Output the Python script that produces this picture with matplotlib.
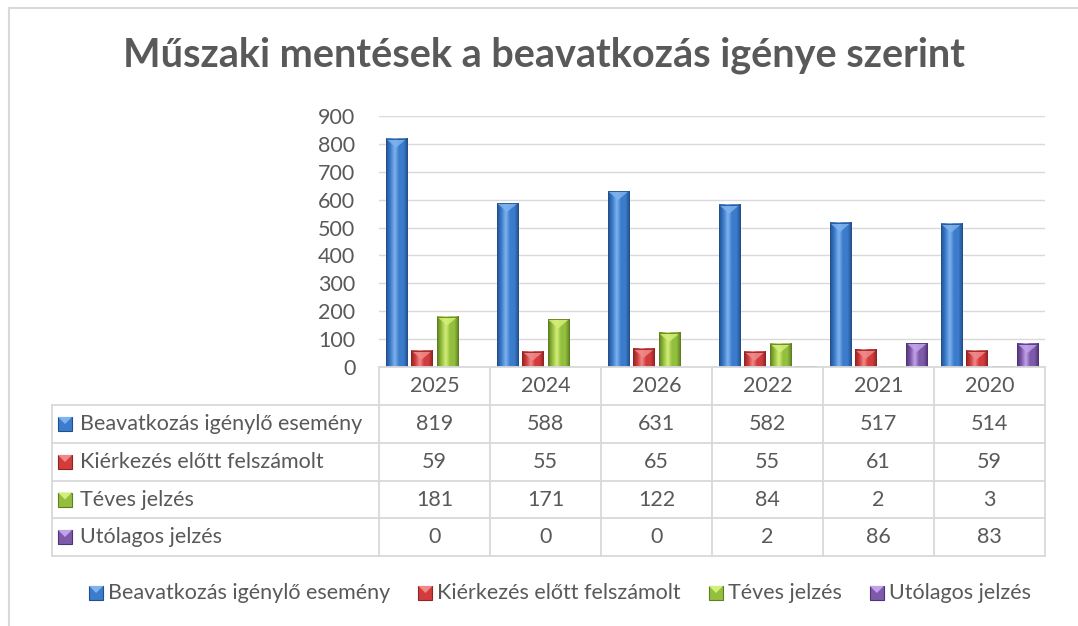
import matplotlib
matplotlib.use("Agg")
import matplotlib.pyplot as plt
import numpy as np
from matplotlib.colors import LinearSegmentedColormap
from matplotlib.patches import Rectangle, Polygon
from matplotlib.lines import Line2D

# adatok
years = ["2025", "2024", "2026", "2022", "2021", "2020"]
series_names = ["Beavatkozás igénylő esemény", "Kiérkezés előtt felszámolt",
                "Téves jelzés", "Utólagos jelzés"]
beavatkozas = [819, 588, 631, 582, 517, 514]
kierkezes = [59, 55, 65, 55, 61, 59]
teves = [181, 171, 122, 84, 2, 3]
utolagos = [0, 0, 0, 2, 86, 83]
yticks = list(range(0, 1000, 100))

series = [beavatkozas, kierkezes, teves, utolagos]
# (sötét, alap, világos)
colors = [("#23508c", "#3b7ccc", "#7fb2ee"),
          ("#8e2424", "#d23c3c", "#f08a8a"),
          ("#5f7e22", "#93bf3e", "#d4ee7a"),
          ("#4e3474", "#7e5aaa", "#c2a2ea")]

plt.rcParams['font.family'] = ['Lato', 'DejaVu Sans']
grey = "#595959"
line_c = "#d9d9d9"
fs = 15.5

W, H = 1078, 626
fig = plt.figure(figsize=(W / 100, H / 100), dpi=100)

def fx(x):
    return x / W

def fy(y):
    return 1 - y / H

# keret
fig.add_artist(Line2D([fx(9), fx(9)], [fy(8), fy(626)], color=line_c, lw=1.5, transform=fig.transFigure))
fig.add_artist(Line2D([fx(9), fx(1078)], [fy(8), fy(8)], color=line_c, lw=1.5, transform=fig.transFigure))

fig.text(fx(544), fy(55), "Műszaki mentések a beavatkozás igénye szerint",
         ha="center", va="center", fontsize=28.5, fontweight="bold", color=grey)

ax = fig.add_axes([fx(379), fy(367), fx(1045) - fx(379), fy(116) - fy(367)])
ax.set_xlim(0, len(years))
ax.set_ylim(0, 900)
ax.set_yticks(yticks)
ax.set_xticks([])
ax.tick_params(axis="y", length=0, pad=17, labelsize=fs, labelcolor=grey)
for s in ax.spines.values():
    s.set_visible(False)
ax.grid(axis="y", color=line_c, lw=1.0)
ax.set_axisbelow(True)

bw = 0.19
pitch = 0.23
px_per_unit = (367 - 116) / 900.0
tri_depth = 9 / px_per_unit
for k, vals in enumerate(series):
    dark, base, light = colors[k]
    cmap = LinearSegmentedColormap.from_list("g%d" % k, [dark, base, light, base, base, dark])
    grad = np.linspace(0, 1, 64).reshape(1, -1)
    for i, v in enumerate(vals):
        if v <= 0:
            continue
        x0 = i + 0.5 + (k - 1.5) * pitch - bw / 2
        x1 = x0 + bw
        ax.imshow(grad, cmap=cmap, extent=[x0, x1, 0, v], aspect="auto", zorder=3)
        d = min(tri_depth, v)
        ax.add_patch(Polygon([[x0, v], [x1, v], [(x0 + x1) / 2, v - d]],
                             closed=True, facecolor=light, edgecolor="none", alpha=0.85, zorder=4))
        ax.add_patch(Rectangle((x0, 0), bw, v, facecolor="none", edgecolor=dark, lw=0.6, zorder=5))
ax.set_xlim(0, len(years))
ax.set_ylim(0, 900)

def marker(x, yc, k, size=14):
    dark, base, light = colors[k]
    s_w = size / W
    s_h = size / H
    fig.add_artist(Rectangle((fx(x), fy(yc) - s_h / 2), s_w, s_h, facecolor=base,
                             edgecolor=dark, lw=0.8, transform=fig.transFigure))
    fig.add_artist(Polygon([[fx(x), fy(yc) + s_h / 2], [fx(x) + s_w, fy(yc) + s_h / 2],
                            [fx(x) + s_w / 2, fy(yc)]], closed=True, facecolor=light,
                           edgecolor="none", transform=fig.transFigure))

# táblázat
col_x = [379 + i * 111 for i in range(len(years) + 1)]
row_y = [367, 405, 443, 481, 518, 556]
lkw = dict(color=line_c, lw=1.3, transform=fig.transFigure)
for y in row_y[1:]:
    fig.add_artist(Line2D([fx(52), fx(1045)], [fy(y), fy(y)], **lkw))
fig.add_artist(Line2D([fx(379), fx(1045)], [fy(367), fy(367)], **lkw))
for x in col_x:
    fig.add_artist(Line2D([fx(x), fx(x)], [fy(367), fy(556)], **lkw))
fig.add_artist(Line2D([fx(52), fx(52)], [fy(405), fy(556)], **lkw))

for i, yr in enumerate(years):
    fig.text(fx(col_x[i] + 55.5), fy(386), yr, ha="center", va="center", fontsize=fs, color=grey)
for k, vals in enumerate(series):
    yc = (row_y[k + 1] + row_y[k + 2]) / 2
    marker(58, yc, k)
    fig.text(fx(80), fy(yc), series_names[k], ha="left", va="center", fontsize=fs, color=grey)
    for i, v in enumerate(vals):
        fig.text(fx(col_x[i] + 55.5), fy(yc), str(v), ha="center", va="center", fontsize=fs, color=grey)

# jelmagyarázat
renderer = fig.canvas.get_renderer()
widths = []
for name in series_names:
    t = fig.text(0, 0, name, fontsize=fs)
    widths.append(t.get_window_extent(renderer).width)
    t.remove()
gap_m, gap_e = 5, 28
total = sum(14 + gap_m + w for w in widths) + gap_e * (len(widths) - 1)
x = 560 - total / 2
for k, name in enumerate(series_names):
    marker(x, 593, k)
    fig.text(fx(x + 14 + gap_m), fy(593), name, ha="left", va="center", fontsize=fs, color=grey)
    x += 14 + gap_m + widths[k] + gap_e

fig.savefig("out.png", dpi=100)
